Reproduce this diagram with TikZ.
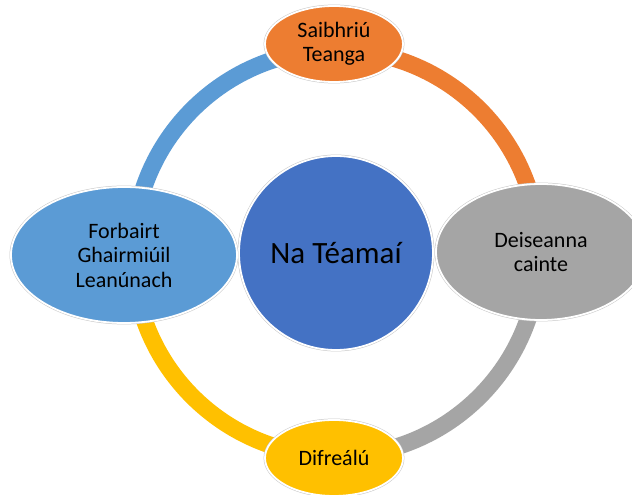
\documentclass[tikz,border=0pt]{standalone}
\usepackage{fontspec}
\setmainfont{Carlito}
\usetikzlibrary{shapes.geometric}
\definecolor{cOrange}{HTML}{ED7D31}
\definecolor{cBlue}{HTML}{5B9BD5}
\definecolor{cGray}{HTML}{A5A5A5}
\definecolor{cGold}{HTML}{FFC000}
\definecolor{cCenter}{HTML}{4472C4}
\tikzset{
  ringarc/.style={line width=17pt},
  bubble/.style={ellipse, inner sep=0pt, align=center, text=black,
    font=\fontsize{22}{24.5}\selectfont,
    preaction={draw=black!22, line width=2.8pt},
    draw=white, line width=1.8pt},
  smallbub/.style={bubble, minimum width=138pt, minimum height=76pt},
  bigbub/.style={bubble, minimum width=226pt, minimum height=136pt},
  hub/.style={circle, inner sep=0pt, minimum size=194pt, fill=cCenter,
    text=black, font=\fontsize{31}{34}\selectfont,
    preaction={draw=black!22, line width=2.8pt},
    draw=white, line width=1.8pt}
}
\begin{document}
\begin{tikzpicture}[x=1pt,y=1pt]
\clip (0,0) rectangle (632,495);
\fill[white] (0,0) rectangle (632,495);
\coordinate (ctr) at (336,242);
% ring arcs
\draw[ringarc, cOrange] ([shift={(90:203)}]ctr) arc[start angle=90, end angle=0, radius=203];
\draw[ringarc, cGray] ([shift={(0:203)}]ctr) arc[start angle=0, end angle=-90, radius=203];
\draw[ringarc, cGold] ([shift={(-90:203)}]ctr) arc[start angle=-90, end angle=-180, radius=203];
\draw[ringarc, cBlue] ([shift={(180:203)}]ctr) arc[start angle=180, end angle=90, radius=203];
% nodes
\node[hub] (hub) at (ctr) {Na Téamaí};
\node[smallbub, fill=cOrange] (top) at (334,451) {Saibhriú\\Teanga};
\node[bigbub, fill=cGray, minimum width=210pt] (right) at (541,243) {Deiseanna\\cainte};
\node[smallbub, fill=cGold] (bottom) at (334,37) {Difreálú};
\node[bigbub, fill=cBlue] (left) at (124,240) {Forbairt\\Ghairmiúil\\Leanúnach};
\end{tikzpicture}
\end{document}
